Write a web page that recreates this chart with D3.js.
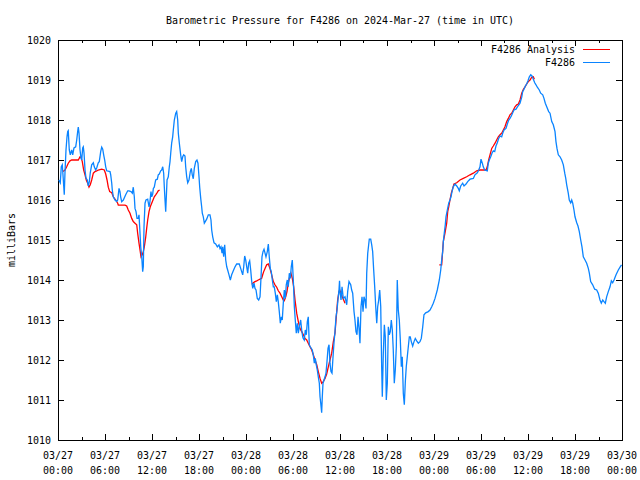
<!DOCTYPE html>
<html><head><meta charset="utf-8">
<script src="https://cdn.jsdelivr.net/npm/d3@7"></script>
<style>body{margin:0;background:#fff}svg{display:block}</style>
</head><body><svg id="c" width="640" height="480"></svg>
<script>
const chartTitle = "Barometric Pressure for F4286 on 2024-Mar-27 (time in UTC)";
const yAxisLabel = "milliBars";
const seriesNames = ["F4286 Analysis", "F4286"];
const seriesColors = ["#ff0000", "#0a84ff"];
const yTickValues = [1010,1011,1012,1013,1014,1015,1016,1017,1018,1019,1020];
const xTickHours = [0,6,12,18,24,30,36,42,48,54,60,66,72];
const xMinorHours = [3,9,15,21,27,33,39,45,51,57,63,69];
const startUTC = Date.UTC(2024, 2, 27, 0, 0);

// F4286 station observations: hours since 2024-03-27 00:00 UTC, pressure in mb
const stationHours = [0.10,0.29,0.42,0.55,0.68,0.80,0.89,1.02,1.15,1.24,1.31,1.44,1.57,1.75,1.88,2.04,2.26,2.39,2.51,2.59,2.68,2.81,2.94,3.03,3.15,3.23,3.32,3.45,3.57,3.74,3.87,4.00,4.12,4.30,4.51,4.63,4.81,4.94,5.14,5.27,5.45,5.58,5.71,5.83,5.96,6.09,6.22,6.64,6.73,6.86,6.93,7.06,7.28,7.49,7.62,7.79,7.91,8.00,8.13,8.34,8.64,8.90,9.06,9.32,9.49,9.61,9.74,9.83,9.96,10.09,10.25,10.34,10.47,10.56,10.69,10.81,10.89,10.98,11.11,11.23,11.45,11.62,11.74,11.87,11.96,12.09,12.17,12.29,12.47,12.68,12.80,12.93,13.11,13.24,13.37,13.49,13.57,13.66,13.75,13.83,13.92,14.00,14.08,14.21,14.30,14.39,14.51,14.64,14.72,14.85,15.03,15.15,15.28,15.36,15.49,15.66,15.79,15.92,16.05,16.21,16.30,16.43,16.56,16.72,16.89,17.02,17.14,17.27,17.40,17.58,17.74,17.87,18.00,18.09,18.22,18.34,18.42,18.55,18.68,18.80,18.98,19.19,19.40,19.53,19.62,19.75,19.92,20.13,20.34,20.55,20.68,20.81,20.94,21.03,21.15,21.28,21.41,21.54,21.66,21.83,22.00,22.17,22.38,22.60,22.81,23.14,23.32,23.45,23.58,23.71,23.83,23.96,24.09,24.22,24.34,24.47,24.60,24.73,24.86,25.02,25.15,25.28,25.44,25.62,25.79,25.92,26.04,26.17,26.30,26.43,26.55,26.72,26.85,26.97,27.10,27.23,27.36,27.49,27.61,27.74,27.87,28.00,28.12,28.25,28.38,28.51,28.63,28.76,28.89,29.02,29.14,29.27,29.40,29.53,29.66,29.78,29.91,30.04,30.17,30.29,30.42,30.55,30.68,30.80,30.98,31.11,31.24,31.31,31.44,31.57,31.70,31.83,31.95,32.08,32.21,32.46,32.59,32.72,32.85,32.97,33.10,33.23,33.36,33.45,33.54,33.66,33.74,33.83,33.96,34.09,34.21,34.34,34.47,34.60,34.72,34.85,34.98,35.11,35.23,35.36,35.49,35.62,35.74,35.87,35.94,36.00,36.13,36.26,36.42,36.64,36.86,36.98,37.15,37.37,37.49,37.62,37.79,37.91,38.04,38.17,38.30,38.43,38.55,38.68,38.81,38.94,39.06,39.19,39.32,39.41,39.54,39.66,39.74,39.92,40.05,40.17,40.30,40.43,40.56,40.69,40.81,40.94,41.07,41.20,41.32,41.40,41.53,41.66,41.78,41.91,42.04,42.17,42.29,42.42,42.55,42.68,42.80,42.93,43.06,43.19,43.31,43.44,43.57,43.70,43.83,43.95,44.08,44.21,44.34,44.46,44.59,44.72,44.85,44.97,45.10,45.28,45.45,45.61,45.79,46.00,46.21,46.38,46.56,46.72,46.94,47.27,47.49,47.71,47.91,48.13,48.42,48.68,48.86,48.98,49.11,49.19,49.31,49.44,49.53,49.70,49.88,50.04,50.17,50.30,50.46,50.68,50.90,51.10,51.23,51.41,51.66,51.83,52.09,52.30,52.60,53.02,53.23,53.53,53.71,53.87,54.00,54.17,54.29,54.47,54.80,54.93,55.06,55.24,55.40,55.57,55.75,55.91,56.08,56.26,56.43,56.64,56.77,56.94,57.19,57.36,57.54,57.70,57.87,58.05,58.21,58.47,58.72,58.98,59.20,59.32,59.49,59.66,59.83,60.00,60.17,60.35,60.51,60.68,60.86,61.02,61.19,61.44,61.62,61.88,62.04,62.21,62.39,62.64,62.81,63.03,63.23,63.45,63.57,63.70,63.87,64.09,64.30,64.51,64.69,64.82,64.94,65.14,65.27,65.45,65.58,65.71,65.87,66.00,66.22,66.38,66.55,66.73,66.89,67.06,67.28,67.49,67.70,67.83,68.00,68.26,68.51,68.77,68.97,69.19,69.36,69.54,69.70,69.87,70.04,70.25,70.47,70.64,70.81,70.98,71.24,71.53,71.75,71.94];
const stationPressure = [1016.50,1016.43,1016.83,1016.88,1016.50,1016.13,1016.68,1017.25,1017.58,1017.71,1017.73,1017.25,1017.13,1017.25,1017.13,1017.30,1017.33,1017.50,1017.71,1017.82,1017.68,1017.25,1017.05,1017.00,1017.30,1017.33,1017.18,1016.75,1016.55,1016.50,1016.35,1016.46,1016.68,1016.88,1016.93,1016.83,1016.75,1016.80,1016.93,1016.96,1017.21,1017.32,1017.27,1017.13,1017.00,1016.83,1016.73,1016.71,1016.63,1016.42,1016.25,1016.08,1016.00,1015.96,1016.00,1016.29,1016.21,1016.08,1015.96,1016.00,1016.13,1016.23,1016.23,1016.21,1016.17,1016.32,1016.08,1015.79,1015.71,1015.54,1015.54,1015.63,1015.17,1014.83,1014.58,1014.21,1014.33,1015.33,1015.92,1016.00,1016.02,1015.83,1015.96,1016.21,1016.08,1016.15,1016.29,1016.32,1016.50,1016.52,1016.63,1016.65,1016.73,1016.75,1016.83,1016.67,1016.33,1016.00,1015.71,1016.08,1016.50,1016.54,1016.58,1016.83,1016.96,1017.17,1017.42,1017.58,1017.75,1018.00,1018.17,1018.21,1018.00,1017.67,1017.42,1017.13,1016.96,1017.08,1017.13,1017.10,1016.83,1016.58,1016.43,1016.50,1016.71,1016.79,1016.63,1016.53,1016.79,1016.96,1017.00,1016.92,1016.58,1016.32,1016.04,1015.83,1015.67,1015.58,1015.42,1015.46,1015.52,1015.63,1015.63,1015.50,1015.25,1015.08,1014.93,1014.90,1014.83,1014.88,1014.79,1014.83,1014.67,1014.83,1014.58,1014.88,1014.50,1014.33,1014.25,1014.13,1014.00,1014.13,1014.23,1014.33,1014.40,1014.40,1014.29,1014.21,1014.13,1014.33,1014.60,1014.50,1014.33,1014.17,1014.42,1014.48,1014.25,1013.96,1013.79,1013.92,1013.79,1013.75,1013.54,1013.50,1013.58,1014.08,1014.58,1014.71,1014.77,1014.67,1014.58,1014.71,1014.90,1014.58,1014.29,1014.21,1014.00,1013.83,1013.83,1013.67,1013.46,1013.63,1013.46,1013.21,1012.92,1013.08,1013.00,1013.42,1013.75,1013.54,1013.88,1014.00,1013.83,1014.17,1014.04,1014.33,1014.50,1014.00,1013.33,1013.00,1012.67,1012.92,1012.67,1012.83,1013.00,1012.75,1012.58,1012.54,1012.50,1012.75,1012.63,1012.96,1013.08,1012.38,1012.33,1012.25,1012.13,1011.92,1012.04,1011.88,1011.75,1011.58,1011.42,1011.08,1010.92,1010.68,1011.08,1011.42,1011.50,1011.58,1011.67,1011.96,1012.29,1012.38,1011.92,1011.71,1011.67,1012.08,1012.42,1012.71,1013.08,1013.25,1013.50,1013.75,1013.98,1013.71,1013.50,1013.83,1013.54,1013.58,1013.38,1013.71,1013.96,1013.88,1013.75,1013.67,1013.21,1013.00,1012.71,1012.63,1013.08,1012.79,1012.42,1013.33,1013.58,1013.21,1013.58,1013.50,1013.29,1014.17,1014.67,1014.88,1015.02,1015.02,1014.88,1014.71,1014.25,1013.83,1013.33,1012.92,1013.33,1013.50,1013.75,1013.33,1011.83,1011.08,1012.17,1012.88,1012.58,1011.00,1011.42,1012.83,1012.63,1012.71,1013.00,1012.75,1012.25,1011.42,1011.75,1012.33,1014.00,1013.25,1013.00,1012.50,1011.83,1012.08,1011.17,1010.88,1011.46,1011.83,1012.08,1012.33,1012.58,1012.58,1012.46,1012.35,1012.46,1012.54,1012.48,1012.42,1012.46,1012.54,1012.83,1013.13,1013.18,1013.21,1013.25,1013.33,1013.42,1013.54,1013.75,1014.00,1014.25,1014.50,1014.71,1014.96,1015.17,1015.38,1015.58,1015.75,1015.92,1016.00,1016.08,1016.21,1016.33,1016.40,1016.35,1016.29,1016.23,1016.35,1016.42,1016.35,1016.40,1016.46,1016.52,1016.54,1016.63,1016.68,1016.75,1016.83,1017.02,1016.92,1016.83,1016.75,1016.73,1016.92,1017.00,1017.08,1017.17,1017.23,1017.21,1017.35,1017.43,1017.54,1017.60,1017.58,1017.67,1017.75,1017.79,1017.90,1018.00,1018.04,1018.10,1018.18,1018.25,1018.27,1018.35,1018.42,1018.57,1018.71,1018.77,1018.85,1018.90,1018.98,1019.08,1019.13,1019.10,1019.02,1018.93,1018.88,1018.82,1018.75,1018.67,1018.63,1018.54,1018.42,1018.33,1018.21,1018.17,1017.96,1017.88,1017.71,1017.46,1017.29,1017.13,1017.08,1017.00,1016.88,1016.67,1016.54,1016.38,1016.17,1016.00,1015.93,1016.00,1015.92,1015.75,1015.58,1015.43,1015.35,1015.21,1015.00,1014.83,1014.58,1014.50,1014.42,1014.29,1014.17,1013.96,1013.88,1013.77,1013.75,1013.67,1013.50,1013.42,1013.50,1013.46,1013.42,1013.58,1013.71,1013.83,1013.98,1013.93,1014.00,1014.13,1014.25,1014.32,1014.38];

// F4286 Analysis: null separates the three analysed spans
const analysisHours = [0.64,0.89,1.11,1.31,1.53,1.75,2.59,2.81,2.94,3.10,3.28,3.45,3.61,3.79,3.96,4.12,4.30,4.51,4.72,4.94,5.14,5.58,5.91,6.09,6.26,6.42,6.60,6.86,7.06,7.37,7.62,7.70,8.55,8.77,8.97,9.19,9.41,9.61,9.83,10.05,10.17,10.34,10.47,10.60,10.76,10.89,11.02,11.20,11.32,11.45,11.62,11.78,11.96,12.13,12.29,12.47,12.64,12.80,12.98,
  null,
  24.73,24.93,25.15,25.37,25.57,25.79,26.00,26.13,26.26,26.43,26.64,26.85,27.06,27.28,27.49,27.70,27.92,28.12,28.34,28.56,28.76,28.89,29.07,29.23,29.40,29.58,29.74,29.91,30.09,30.26,30.47,30.68,30.89,31.11,31.32,31.53,31.75,31.95,32.17,32.39,32.59,32.81,33.03,33.23,33.45,33.66,33.87,34.09,34.30,34.51,34.72,34.94,35.15,35.36,35.58,35.70,35.87,35.96,36.13,36.29,36.47,36.64,
  null,
  48.68,48.98,49.19,49.40,49.62,49.75,49.88,50.04,50.21,50.39,50.55,50.90,51.32,51.74,52.17,52.60,53.02,53.45,53.87,54.64,54.80,54.98,55.15,55.37,55.57,55.79,56.00,56.21,56.43,56.64,56.85,57.06,57.28,57.49,57.70,57.92,58.13,58.34,58.56,58.77,58.98,59.20,59.41,59.62,59.83,60.04,60.26,60.47,60.68,60.81];
const analysisPressure = [1016.71,1016.75,1016.83,1016.92,1016.98,1017.00,1017.00,1017.08,1017.07,1016.96,1016.75,1016.63,1016.50,1016.42,1016.32,1016.38,1016.50,1016.67,1016.71,1016.73,1016.75,1016.77,1016.75,1016.65,1016.50,1016.32,1016.21,1016.18,1016.08,1016.00,1015.92,1015.87,1015.87,1015.85,1015.75,1015.67,1015.54,1015.46,1015.42,1015.38,1015.17,1014.92,1014.75,1014.58,1014.63,1014.71,1014.83,1015.08,1015.29,1015.50,1015.71,1015.83,1015.92,1016.00,1016.08,1016.13,1016.18,1016.23,1016.25,
  null,
  1013.89,1013.93,1013.96,1013.98,1014.00,1014.02,1014.04,1014.13,1014.21,1014.29,1014.38,1014.40,1014.29,1014.13,1013.96,1013.88,1013.82,1013.73,1013.67,1013.58,1013.50,1013.48,1013.58,1013.71,1013.92,1014.08,1014.17,1014.04,1013.83,1013.50,1013.17,1012.96,1012.79,1012.71,1012.63,1012.54,1012.50,1012.42,1012.33,1012.25,1012.13,1012.00,1011.88,1011.71,1011.54,1011.42,1011.46,1011.54,1011.65,1011.83,1012.00,1012.17,1012.46,1012.67,1013.21,1013.50,1013.71,1013.75,1013.67,1013.58,1013.50,1013.42,
  null,
  1014.38,1014.38,1014.96,1015.17,1015.42,1015.71,1015.83,1016.00,1016.17,1016.29,1016.40,1016.43,1016.50,1016.54,1016.58,1016.63,1016.67,1016.73,1016.75,1016.75,1016.83,1017.00,1017.13,1017.29,1017.35,1017.42,1017.50,1017.58,1017.63,1017.67,1017.75,1017.83,1017.96,1018.04,1018.13,1018.17,1018.25,1018.33,1018.38,1018.40,1018.50,1018.67,1018.77,1018.83,1018.90,1018.96,1019.00,1019.07,1019.08,1019.02];

const toDate = h => new Date(startUTC + h * 3600000);
const station = stationHours.map((h, i) => ({t: toDate(h), v: stationPressure[i]}));
const analysis = analysisHours.map((h, i) => ({t: h == null ? null : toDate(h), v: analysisPressure[i]}));

const W = 640, H = 480;
const m = {left: 58, right: 18, top: 40, bottom: 40};
const x = d3.scaleUtc().domain([toDate(0), toDate(72)]).range([m.left, W - m.right]);
const y = d3.scaleLinear().domain([1010, 1020]).range([H - m.bottom, m.top]);

const svg = d3.select("#c");
svg.append("rect").attr("width", W).attr("height", H).attr("fill", "#fff");
const FONT = "'DejaVu Sans Mono', 'Liberation Mono', monospace";
const CW = 6; // character cell width
function txt(g, s, attrs) {
  const t = g.append("text").text(s)
    .attr("font-family", FONT).attr("font-size", 11).attr("fill", "#000")
    .attr("textLength", s.length * CW).attr("lengthAdjust", "spacingAndGlyphs");
  for (const k in attrs) t.attr(k, attrs[k]);
  return t;
}

const x0 = m.left, x1 = W - m.right, y0 = m.top, y1 = H - m.bottom;
const axes = svg.append("g").attr("stroke", "#000").attr("stroke-width", 1).attr("shape-rendering", "crispEdges");
yTickValues.forEach(v => {
  const py = Math.round(y(v)) + 0.5;
  axes.append("line").attr("x1", x0).attr("x2", x0 + 6).attr("y1", py).attr("y2", py);
  axes.append("line").attr("x1", x1 - 6).attr("x2", x1).attr("y1", py).attr("y2", py);
});
xTickHours.concat(xMinorHours).forEach(h => {
  const px = Math.round(x(toDate(h))) + 0.5;
  const len = (h % 6 === 0) ? 6 : 3;
  axes.append("line").attr("x1", px).attr("x2", px).attr("y1", y1).attr("y2", y1 - len);
  axes.append("line").attr("x1", px).attr("x2", px).attr("y1", y0).attr("y2", y0 + len);
});

const labels = svg.append("g");
yTickValues.forEach(v => {
  txt(labels, String(v), {x: 51, y: y(v) + 4, "text-anchor": "end"});
});
const fmtD = d3.utcFormat("%m/%d"), fmtT = d3.utcFormat("%H:%M");
xTickHours.forEach(h => {
  const d = toDate(h), px = x(d);
  txt(labels, fmtD(d), {x: px, y: y1 + 19, "text-anchor": "middle"});
  txt(labels, fmtT(d), {x: px, y: y1 + 34, "text-anchor": "middle"});
});
txt(labels, chartTitle, {x: (x0 + x1) / 2, y: 24, "text-anchor": "middle"});
txt(labels, yAxisLabel, {x: 0, y: 0, "text-anchor": "middle", transform: `translate(15,${(y0 + y1) / 2}) rotate(-90)`});

[0, 1].forEach(i => {
  const ly = 49 + i * 13;
  txt(labels, seriesNames[i], {x: 575, y: ly + 4, "text-anchor": "end"});
  svg.append("line").attr("x1", 583).attr("x2", 610).attr("y1", ly + 0.5).attr("y2", ly + 0.5)
    .attr("stroke", seriesColors[i]).attr("stroke-width", 1).attr("shape-rendering", "crispEdges");
});

const line = d3.line().defined(d => d.t != null && d.v != null).x(d => x(d.t)).y(d => y(d.v));
const plot = svg.append("g");
plot.append("path").datum(analysis).attr("d", line).attr("fill", "none")
  .attr("stroke", seriesColors[0]).attr("stroke-width", 1.3);
plot.append("path").datum(station).attr("d", line).attr("fill", "none")
  .attr("stroke", seriesColors[1]).attr("stroke-width", 1.3);

axes.append("rect").attr("x", x0 + 0.5).attr("y", y0 + 0.5).attr("width", x1 - x0).attr("height", y1 - y0)
  .attr("fill", "none");
</script></body></html>
